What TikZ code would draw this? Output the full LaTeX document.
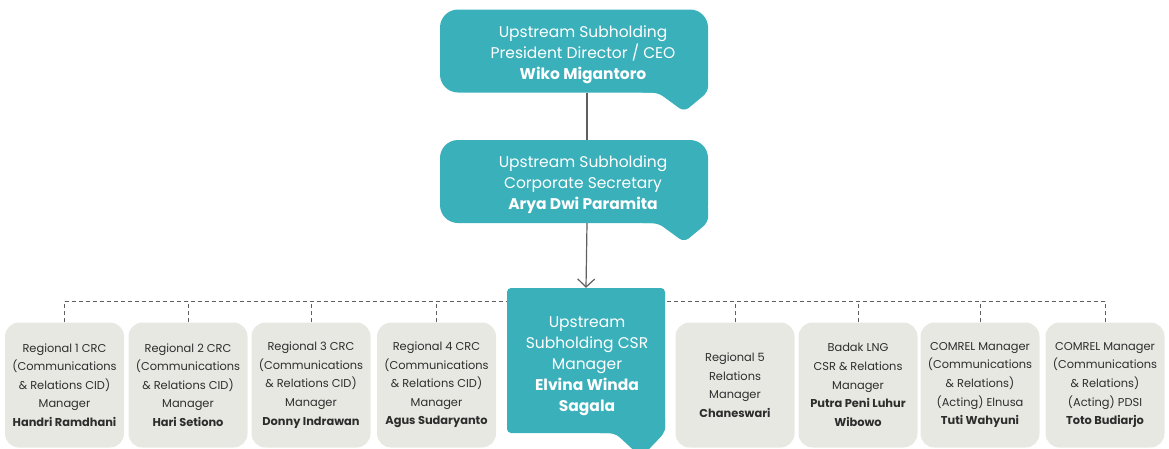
\documentclass[tikz,border=0pt]{standalone}
\usepackage{fontspec}
\setmainfont{Poppins}
\usetikzlibrary{arrows.meta}

\definecolor{tealbg}{RGB}{58,176,186}
\definecolor{graybg}{RGB}{232,232,227}
\definecolor{graytxt}{RGB}{45,45,45}
\definecolor{lineclr}{RGB}{95,95,95}

\tikzset{
    tealbox/.style={fill=tealbg, rounded corners=18pt, minimum width=268pt, minimum height=83pt, inner sep=0pt},
    tealtext/.style={text=white, align=center, font=\fontsize{15.5}{21}\selectfont},
    graybox/.style={fill=graybg, rounded corners=14pt, minimum width=119pt, minimum height=125pt,
        inner sep=0pt, align=center, text=graytxt, font=\fontsize{11.4}{18.6}\selectfont},
    conn/.style={draw=lineclr, line width=1.2pt},
    dashline/.style={draw=lineclr, line width=0.9pt, dash pattern=on 4pt off 3pt}
}

% speech-bubble tail under the bottom right corner of a box, #2 = depth of the tip
\newcommand{\bubbletail}[2]{%
    \fill[tealbg, rounded corners=6pt]
        ([shift={(-70,-20)}]#1.south east) |- ([shift={(-50,0)}]#1.south east)
        -- ([shift={(-24,#2)}]#1.south east) -- ([shift={(0,-1)}]#1.south east)
        -- ([shift={(0,-20)}]#1.south east) -- cycle;}

\begin{document}
\begin{tikzpicture}[x=1pt, y=-1pt]
    \useasboundingbox (0,0) rectangle (1169,448);
    \clip (0,0) rectangle (1169,448);

    % director and secretary
    \node[tealbox] (ceo) at (574,51) {};
    \bubbletail{ceo}{19}
    \node[tealtext] (ceotxt) at ([shift={(9,3.5)}]ceo.center)
        {Upstream Subholding\\President Director / CEO\\\textbf{Wiko Migantoro}};

    \node[tealbox] (sec) at (574,181.5) {};
    \bubbletail{sec}{19}
    \node[tealtext] (sectxt) at ([shift={(9,3.5)}]sec.center)
        {Upstream Subholding\\Corporate Secretary\\\textbf{Arya Dwi Paramita}};

    % regional managers
    \foreach \nm/\cx/\txt in {
        r1/64.5/{Regional 1 CRC\\(Communications\\\& Relations CID)\\Manager\\\textbf{Handri Ramdhani}},
        r2/188/{Regional 2 CRC\\(Communications\\\& Relations CID)\\Manager\\\textbf{Hari Setiono}},
        r3/311/{Regional 3 CRC\\(Communications\\\& Relations CID)\\Manager\\\textbf{Donny Indrawan}},
        r4/436.5/{Regional 4 CRC\\(Communications\\\& Relations CID)\\Manager\\\textbf{Agus Sudaryanto}},
        r5/735/{Regional 5\\Relations\\Manager\\\textbf{Chaneswari}},
        r6/858/{Badak LNG\\CSR \& Relations\\Manager\\\textbf{Putra Peni Luhur}\\\textbf{Wibowo}},
        r7/980/{COMREL Manager\\(Communications\\\& Relations)\\(Acting) Elnusa\\\textbf{Tuti Wahyuni}},
        r8/1105/{COMREL Manager\\(Communications\\\& Relations)\\(Acting) PDSI\\\textbf{Toto Budiarjo}}} {
        \node[graybox] (\nm) at (\cx,385) {\txt};
        \draw[dashline] (\nm.north) -- ++(0,-21);
    }
    \draw[dashline] ([yshift=21pt]r1.north) -- ([yshift=21pt]r8.north);

    % csr manager
    \node[tealbox, minimum width=158pt, minimum height=145pt, rounded corners=4pt] (csr) at (586,360.5) {};
    \bubbletail{csr}{24}
    \node[tealtext] (csrtxt) at ([shift={(1,6)}]csr.center)
        {Upstream\\Subholding CSR\\Manager\\\textbf{Elvina Winda}\\\textbf{Sagala}};

    \draw[conn] ([xshift=13pt]ceo.south) -- ([xshift=13pt]sec.north);
    \draw[conn, -{Straight Barb[length=8pt, width=17pt]}] ([xshift=13pt]sec.south) -- (csr.north);
\end{tikzpicture}
\end{document}
